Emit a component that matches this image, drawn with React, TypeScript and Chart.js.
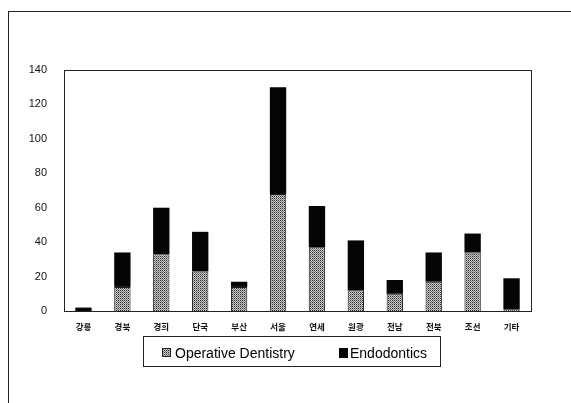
import React, { useEffect, useRef } from "react";
import { Chart, registerables } from "chart.js";

Chart.register(...registerables);

const categories = ["강릉", "경북", "경희", "단국", "부산", "서울", "연세", "원광", "전남", "전북", "조선", "기타"];
const operative = [0, 14, 33, 23, 14, 68, 37, 12, 10, 17, 34, 1];
const endodontics = [2, 20, 27, 23, 3, 62, 24, 29, 8, 17, 11, 18];
const yTicks = [0, 20, 40, 60, 80, 100, 120, 140];
const seriesLabels = ["Operative Dentistry", "Endodontics"];

function makePattern(): CanvasPattern | string {
  const off = document.createElement("canvas");
  off.width = 2;
  off.height = 2;
  const c = off.getContext("2d");
  if (!c) return "#909090";
  c.fillStyle = "#cfcfcf";
  c.fillRect(0, 0, 2, 2);
  c.fillStyle = "#262626";
  c.fillRect(0, 0, 1, 1);
  c.fillStyle = "#7a7a7a";
  c.fillRect(1, 1, 1, 1);
  const p = c.createPattern(off, "repeat");
  return p || "#909090";
}

export default function App() {
  const ref = useRef<HTMLCanvasElement | null>(null);

  useEffect(() => {
    const canvas = ref.current;
    if (!canvas) return;
    const pattern = makePattern();

    const framePlugin = {
      id: "frameAndLegend",
      afterDraw(chart: any) {
        const { ctx, chartArea } = chart;
        ctx.save();
        ctx.strokeStyle = "#222";
        ctx.lineWidth = 1;
        ctx.strokeRect(
          Math.round(chartArea.left) + 0.5,
          Math.round(chartArea.top) + 0.5,
          Math.round(chartArea.right - chartArea.left),
          Math.round(chartArea.bottom - chartArea.top)
        );
        ctx.strokeRect(143.5, 336.5, 297, 30);
        const ds = chart.data.datasets;
        ctx.font = "14px 'Liberation Sans', Arial, sans-serif";
        ctx.textBaseline = "alphabetic";
        ctx.textAlign = "left";
        ctx.fillStyle = ds[0].backgroundColor;
        ctx.fillRect(162, 348, 9, 9);
        ctx.strokeStyle = "#222";
        ctx.strokeRect(162.5, 348.5, 8, 8);
        ctx.fillStyle = "#000";
        ctx.fillText(ds[0].label, 175, 358);
        ctx.fillStyle = ds[1].backgroundColor;
        ctx.fillRect(339, 348, 9, 10);
        ctx.fillStyle = "#000";
        ctx.fillText(ds[1].label, 350, 358);
        ctx.restore();
      },
    };

    const chart = new Chart(canvas, {
      type: "bar",
      data: {
        labels: categories,
        datasets: [
          {
            label: seriesLabels[0],
            data: operative,
            backgroundColor: pattern as any,
            borderColor: "#1a1a1a",
            borderWidth: 1,
            barPercentage: 0.42,
            categoryPercentage: 1,
          },
          {
            label: seriesLabels[1],
            data: endodontics,
            backgroundColor: "#050505",
            borderWidth: 0,
            barPercentage: 0.42,
            categoryPercentage: 1,
          },
        ],
      },
      options: {
        animation: false,
        responsive: false,
        devicePixelRatio: 1,
        layout: { padding: { top: 70, right: 40, bottom: 60, left: 0 } },
        plugins: {
          legend: { display: false },
          tooltip: { enabled: false },
          title: { display: false },
        },
        scales: {
          x: {
            stacked: true,
            grid: { display: false },
            border: { display: false },
            ticks: {
              color: "#111",
              padding: 3,
              maxRotation: 0,
              autoSkip: false,
              font: { family: "'Noto Sans CJK KR', sans-serif", size: 8.5, weight: "bold" },
            },
            afterFit(scale: any) {
              scale.height = 32;
            },
          },
          y: {
            stacked: true,
            min: 0,
            max: 140,
            grid: { display: false },
            border: { display: false },
            ticks: {
              color: "#111",
              padding: 9,
              font: { family: "'Liberation Sans', Arial, sans-serif", size: 11 },
            },
            afterBuildTicks(scale: any) {
              scale.ticks = yTicks.map((v) => ({ value: v }));
            },
            afterFit(scale: any) {
              scale.width = 64;
            },
          },
        },
      },
      plugins: [framePlugin],
    });

    return () => chart.destroy();
  }, []);

  return (
    <div style={{ position: "absolute", left: 0, top: 0, width: 571, height: 403, overflow: "hidden", background: "#fff" }}>
      <div
        style={{
          position: "absolute",
          left: 8,
          top: 11,
          width: 600,
          height: 500,
          borderLeft: "1px solid #222",
          borderTop: "1px solid #222",
        }}
      />
      <canvas ref={ref} width={571} height={403} style={{ position: "absolute", left: 0, top: 0, width: 571, height: 403 }} />
    </div>
  );
}
